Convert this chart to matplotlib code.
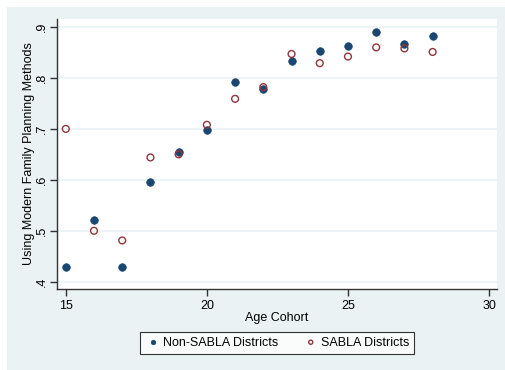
import numpy as np
import matplotlib
matplotlib.use('Agg')
import matplotlib.pyplot as plt

plt.rcParams['font.family'] = ['Liberation Sans', 'DejaVu Sans']

# share using modern FP methods, by age cohort
age = [15, 16, 17, 18, 19, 20, 21, 22, 23, 24, 25, 26, 27, 28]
non_sabla = [0.428, 0.521, 0.428, 0.596, 0.654, 0.697, 0.793, 0.778,
             0.833, 0.852, 0.862, 0.890, 0.867, 0.882]
sabla = [0.700, 0.500, 0.481, 0.644, 0.650, 0.708, 0.759, 0.782,
         0.847, 0.829, 0.842, 0.860, 0.858, 0.851]

x_ticks = [15, 20, 25, 30]
y_ticks = [0.4, 0.5, 0.6, 0.7, 0.8, 0.9]
y_ticklabels = ['.4', '.5', '.6', '.7', '.8', '.9']

NAVY = '#1a476f'
MAROON = '#90353b'
BG = '#eaf2f3'

fig = plt.figure(figsize=(5.05, 3.70), dpi=100)
fig.patch.set_facecolor('white')
# stata-style outer region (white strip on top/left)
fig.patches.append(plt.Rectangle((7 / 505, 0), 1, 1 - 7 / 370,
                                 transform=fig.transFigure, facecolor=BG,
                                 edgecolor='none', zorder=-10))

ax = fig.add_axes([57.3 / 505, 1 - 289 / 370, (496.7 - 57.3) / 505, (289 - 19) / 370])
ax.set_facecolor('white')

ax.scatter(age, non_sabla, s=30, color=NAVY, edgecolors=NAVY, linewidths=0.5,
           zorder=3, label='Non-SABLA Districts')
ax.scatter(age, sabla, s=24, facecolors='none', edgecolors=MAROON, linewidths=1.0,
           zorder=4, label='SABLA Districts')

ax.set_xlim(14.70, 30.27)
ax.set_ylim(0.3857, 0.9157)
ax.set_xticks(x_ticks)
ax.set_yticks(y_ticks)
ax.set_yticklabels(y_ticklabels, rotation=90, va='center')
ax.grid(axis='y', color=BG, linewidth=1.2)
ax.set_axisbelow(True)

for s in ['top', 'right']:
    ax.spines[s].set_visible(False)
for s in ['left', 'bottom']:
    ax.spines[s].set_color('#333333')
    ax.spines[s].set_linewidth(1.0)
ax.tick_params(direction='out', length=5, width=1.0, color='#333333',
               labelsize=9, pad=3)
ax.tick_params(axis='y', pad=1.5)

ax.set_xlabel('Age Cohort', fontsize=9, labelpad=0)
ax.set_ylabel('Using Modern Family Planning Methods', fontsize=9, labelpad=1)

leg = fig.legend(loc='center', bbox_to_anchor=(277.3 / 505, 1 - 342.5 / 370),
                 ncol=2, fontsize=9, frameon=True, fancybox=False,
                 edgecolor='black', handletextpad=0.2, columnspacing=2.0,
                 handlelength=1.2, markerscale=0.6, borderpad=0.4)
leg.get_frame().set_linewidth(0.8)

fig.savefig('out.png', dpi=100, facecolor=fig.get_facecolor())
